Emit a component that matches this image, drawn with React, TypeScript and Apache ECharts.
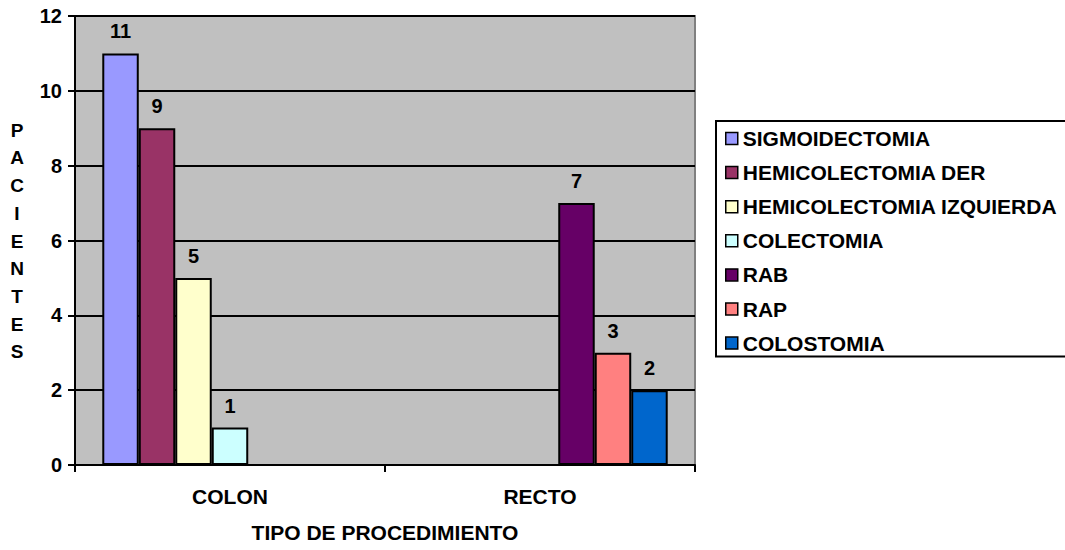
import React, { useEffect, useRef } from "react";
import * as echarts from "echarts";

// Procedure groups on the x axis
const categories = ["COLON", "RECTO"];

// Patients per procedure type: [COLON, RECTO]
const seriesNames = [
  "SIGMOIDECTOMIA",
  "HEMICOLECTOMIA DER",
  "HEMICOLECTOMIA IZQUIERDA",
  "COLECTOMIA",
  "RAB",
  "RAP",
  "COLOSTOMIA",
];
const sigmoidectomia = [11, null];
const hemicolectomiaDer = [9, null];
const hemicolectomiaIzq = [5, null];
const colectomia = [1, null];
const rab = [null, 7];
const rap = [null, 3];
const colostomia = [null, 2];
const seriesValues = [
  sigmoidectomia,
  hemicolectomiaDer,
  hemicolectomiaIzq,
  colectomia,
  rab,
  rap,
  colostomia,
];

const seriesColors = [
  "#9999FF",
  "#993366",
  "#FFFFCC",
  "#CCFFFF",
  "#660066",
  "#FF8080",
  "#0066CC",
];

const FONT = "'Liberation Sans', Arial, Helvetica, sans-serif";

export default function App() {
  const ref = useRef<HTMLDivElement>(null);

  useEffect(() => {
    if (!ref.current) return;
    const chart = echarts.init(ref.current, undefined, { renderer: "svg" });

    const series = seriesNames.map((name, i) => ({
      name,
      type: "bar",
      data: seriesValues[i],
      barGap: "0%",
      barCategoryGap: "17.6%",
      itemStyle: {
        color: seriesColors[i],
        borderColor: "#000",
        borderWidth: 2,
      },
      label: {
        show: true,
        position: "top",
        distance: 12,
        color: "#000",
        fontFamily: FONT,
        fontWeight: "bold",
        fontSize: 20,
      },
    }));

    chart.setOption({
      animation: false,
      backgroundColor: "#fff",
      grid: {
        left: 75,
        top: 16,
        width: 620,
        height: 449,
        show: true,
        backgroundColor: "#C0C0C0",
        borderColor: "#808080",
        borderWidth: 2,
      },
      legend: {
        orient: "vertical",
        left: 716,
        top: 121,
        padding: [7, 60, 3, 9],
        itemGap: 13.1,
        itemWidth: 12,
        itemHeight: 12,
        borderColor: "#000",
        borderWidth: 2,
        backgroundColor: "#fff",
        icon: "rect",
        itemStyle: { borderColor: "#000", borderWidth: 1.5 },
        textStyle: {
          color: "#000",
          fontFamily: FONT,
          fontWeight: "bold",
          fontSize: 21,
        },
        itemTextGap: 5,
        data: seriesNames,
      },
      xAxis: {
        type: "category",
        data: categories,
        name: "TIPO DE PROCEDIMIENTO",
        nameLocation: "middle",
        nameGap: 57,
        nameTextStyle: {
          color: "#000",
          fontFamily: FONT,
          fontWeight: "bold",
          fontSize: 21,
        },
        axisLine: { lineStyle: { color: "#000", width: 2 } },
        axisTick: {
          show: true,
          length: 7,
          lineStyle: { color: "#000", width: 2 },
        },
        axisLabel: {
          margin: 21,
          color: "#000",
          fontFamily: FONT,
          fontWeight: "bold",
          fontSize: 21,
        },
      },
      yAxis: {
        type: "value",
        min: 0,
        max: 12,
        interval: 2,
        axisLine: { show: true, lineStyle: { color: "#000", width: 2 } },
        axisTick: {
          show: true,
          length: 7,
          lineStyle: { color: "#000", width: 2 },
        },
        axisLabel: {
          margin: 13,
          color: "#000",
          fontFamily: FONT,
          fontWeight: "bold",
          fontSize: 20,
        },
        splitLine: { show: true, lineStyle: { color: "#000", width: 2 } },
      },
      graphic: [
        {
          type: "text",
          x: 17,
          y: 241,
          style: {
            text: "P\nA\nC\nI\nE\nN\nT\nE\nS",
            fill: "#000",
            font: `bold 19px ${FONT}`,
            lineHeight: 27.7,
            align: "center",
            verticalAlign: "middle",
          },
        },
      ],
      series,
    });

    return () => chart.dispose();
  }, []);

  return (
    <div
      ref={ref}
      style={{ position: "absolute", left: 0, top: 0, width: 1065, height: 550 }}
    />
  );
}
